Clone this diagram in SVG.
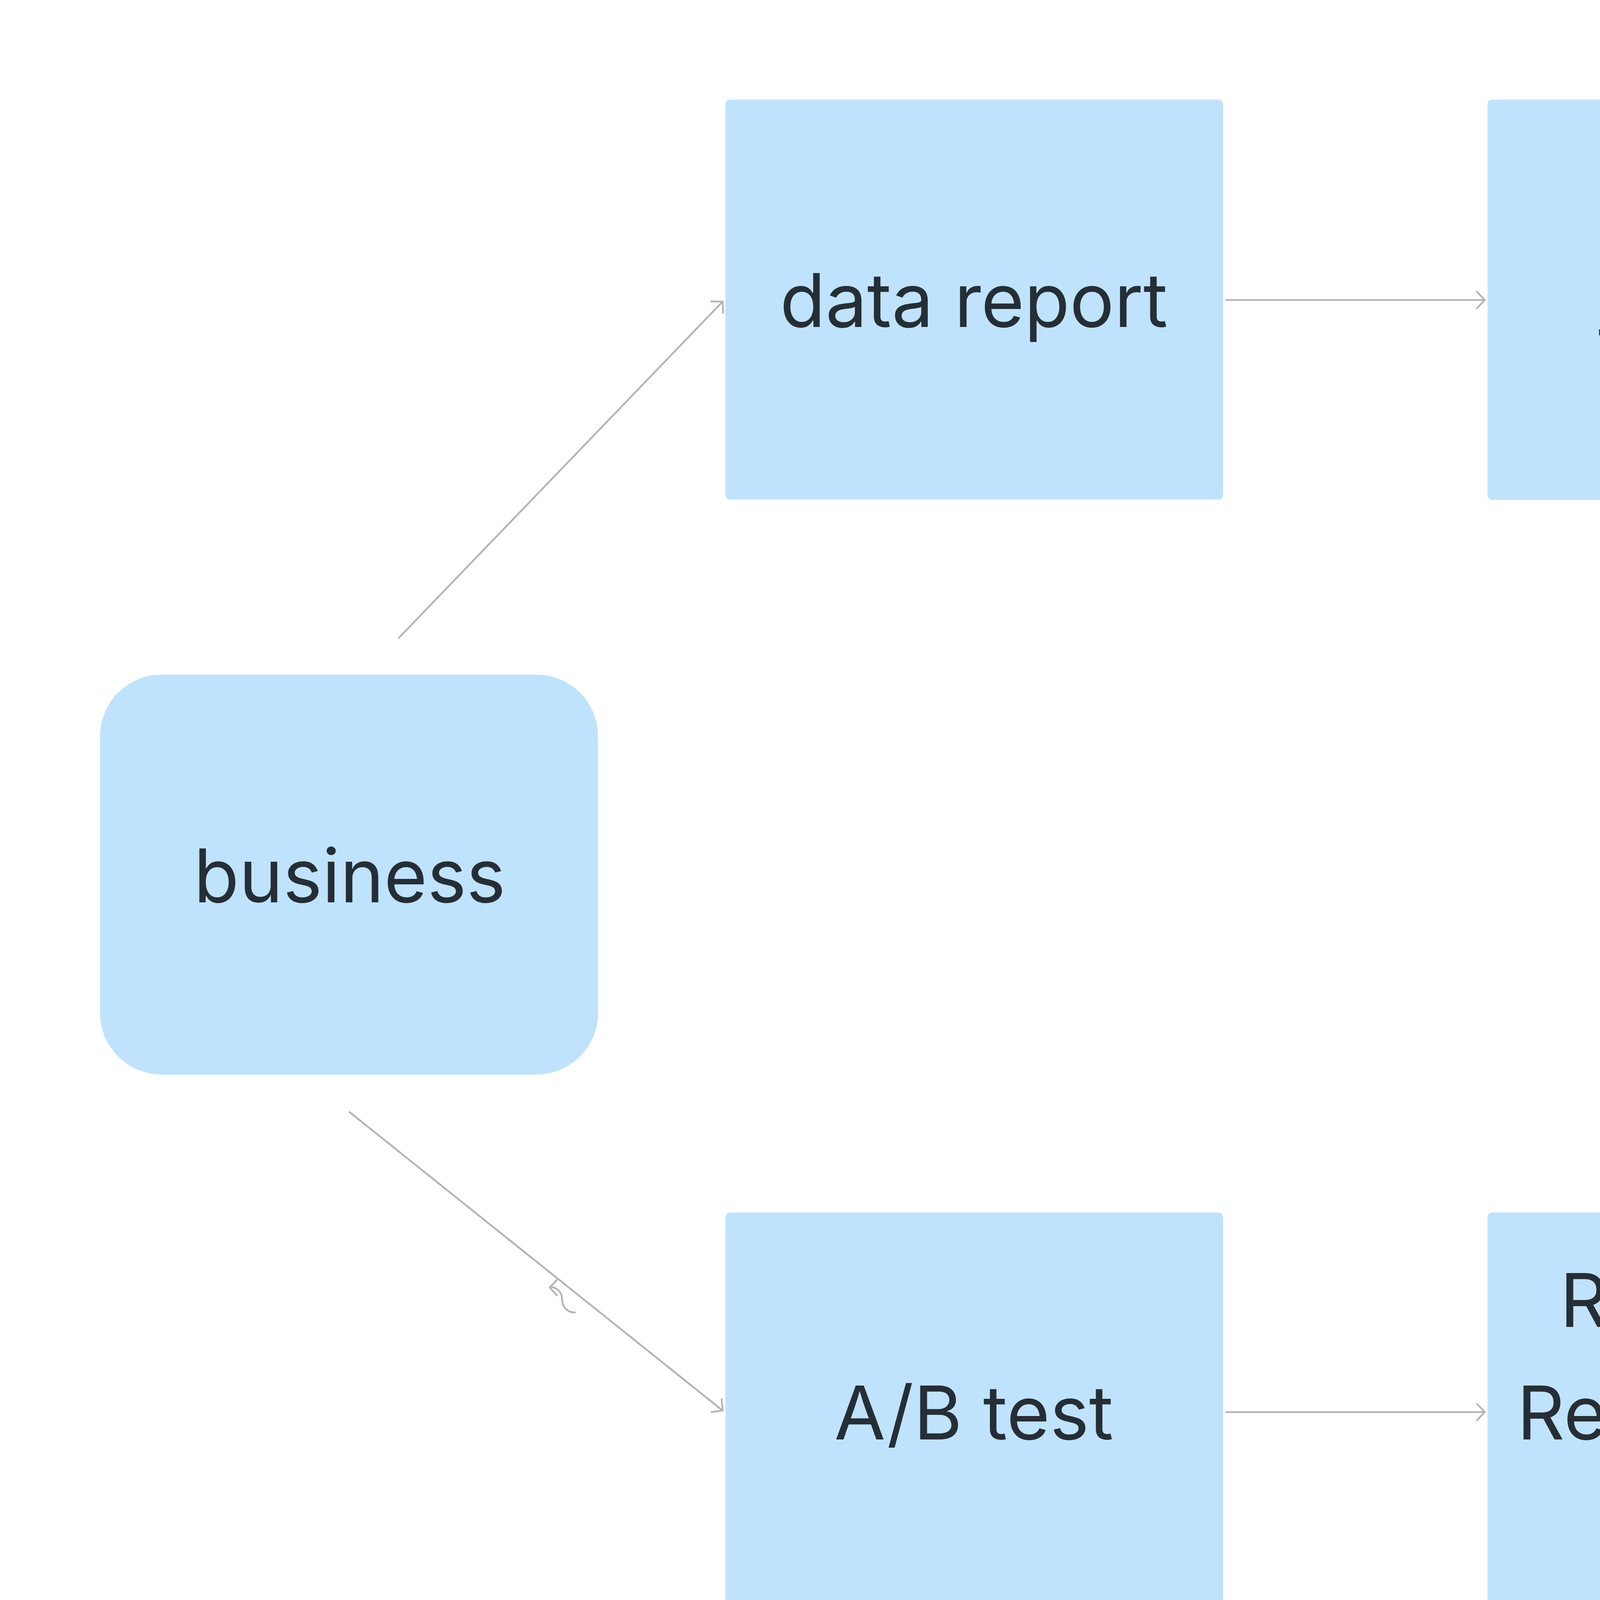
<svg xmlns="http://www.w3.org/2000/svg" width="7644" height="4384" viewBox="0 0 7644 4384">
  <style>
    .box { fill: #bfe3fd; }
    .lbl { font-family: Inter, "Liberation Sans", sans-serif; font-size: 190px; fill: #262e35; text-anchor: middle; }
    .conn { fill: none; stroke: #b3b3b3; stroke-width: 4.5; stroke-linecap: round; stroke-linejoin: round; }
    .rim { stroke: #ffffff; stroke-width: 4; }
  </style>
  <defs>
    <marker id="arr" viewBox="-30 -30 60 60" markerWidth="60" markerHeight="60" refX="0" refY="0" markerUnits="userSpaceOnUse" orient="auto">
      <path d="M-20,-21 L0,0 L-20,21" fill="none" stroke="#b3b3b3" stroke-width="4.5" stroke-linecap="round" stroke-linejoin="round"/>
    </marker>
  </defs>
  <rect width="7644" height="4384" fill="#ffffff"/>

  <g id="connectors">
    <path class="conn" d="M1021,1633 L1850,772" marker-end="url(#arr)"/>
    <path class="conn" d="M3139,768 L3801,768" marker-end="url(#arr)"/>
    <path class="conn" d="M5183,768 L6018,768" marker-end="url(#arr)"/>
    <path class="conn" d="M6751,1406 L6783,3490" marker-end="url(#arr)"/>
    <path class="conn" d="M5984,3776 L5183,3776" marker-end="url(#arr)"/>
    <path class="conn" d="M895,2847 L1850,3611" marker-end="url(#arr)"/>
    <path class="conn" d="M3139,3615 L3801,3615" marker-end="url(#arr)"/>
    <path class="conn" d="M1427,3275 L1407,3296 L1426,3316"/>
    <path class="conn" d="M1413,3295 C1430,3298 1439,3312 1439,3326 C1439,3345 1452,3360 1472,3360"/>
  </g>

  <g id="business">
    <rect class="box" x="256" y="1727" width="1275" height="1024" rx="158" ry="158"/>
    <text class="lbl" x="895" y="2310">business</text>
  </g>

  <g id="data-report">
    <rect class="box" x="1857" y="255" width="1274" height="1024" rx="12" ry="12"/>
    <text class="lbl" x="2493" y="837">data report</text>
  </g>

  <g id="offline-training">
    <rect class="box" x="3808" y="255" width="1276" height="1025" rx="12" ry="12"/>
    <text class="lbl" x="4422" y="694">Offline</text>
    <text class="lbl" x="4446" y="981">Training</text>
  </g>

  <g id="model">
    <path d="M6115,304 L6115,1230 A635,46 0 0 0 7385,1230 L7385,304 Z" fill="#fdce2b"/>
    <ellipse class="rim" cx="6750" cy="304" rx="635" ry="46" fill="#fdce2b"/>
    <text class="lbl" x="6750" y="877" style="fill:#332a0b">Model</text>
  </g>

  <g id="ab-test">
    <rect class="box" x="1857" y="3104" width="1274" height="1023" rx="12" ry="12"/>
    <text class="lbl" x="2493" y="3685">A/B test</text>
  </g>

  <g id="realtime-recommendation">
    <rect class="box" x="3808" y="3104" width="1276" height="1023" rx="12" ry="12"/>
    <text class="lbl" x="4422" y="3397">Real-time</text>
    <text class="lbl" x="4446" y="3685">Recommend</text>
    <text class="lbl" x="4446" y="3973">ation</text>
  </g>

  <g id="online-storage">
    <path d="M6115,3665 L6115,4078 A635,46 0 0 0 7385,4078 L7385,3665 Z" fill="#fea62b"/>
    <ellipse class="rim" cx="6750" cy="3665" rx="635" ry="46" fill="#fea62b"/>
    <text class="lbl" x="6750" y="3957" style="fill:#3a2408;font-size:125px">Online Storage</text>
  </g>
</svg>
